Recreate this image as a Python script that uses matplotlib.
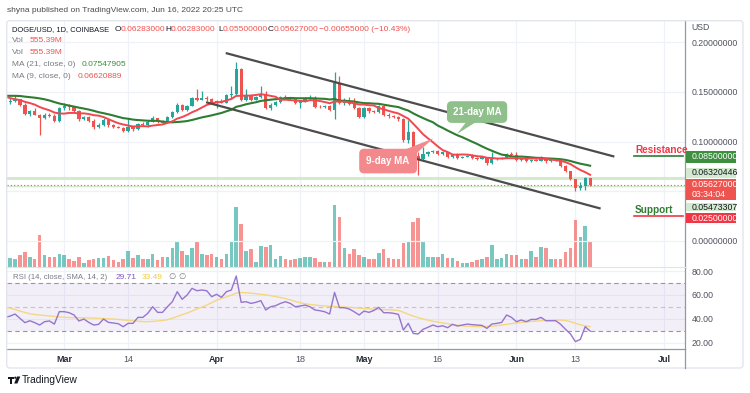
import numpy as np
import pandas as pd
import matplotlib
matplotlib.use("Agg")
import matplotlib.pyplot as plt
import matplotlib.dates as mdates
from matplotlib.patches import Rectangle, FancyBboxPatch, Polygon, Circle

plt.rcParams['font.family'] = ['Liberation Sans', 'DejaVu Sans']

# ---- data (DOGE/USD daily, Feb 17 - Jun 16 2022) ----
dates = pd.date_range("2022-02-17", "2022-06-16", freq="D")
first_open = 0.1460
closes = [
    0.1395, 0.1410, 0.1425, 0.1370, 0.1280, 0.1310, 0.1270, 0.1240, 0.1270, 0.1255, 0.1210, 0.1340,
    0.1355, 0.1345, 0.1310, 0.1225, 0.1245, 0.1210, 0.1150, 0.1165, 0.1215, 0.1165, 0.1150, 0.1140,
    0.1105, 0.1150, 0.1125, 0.1175, 0.1165, 0.1200, 0.1235, 0.1200, 0.1190, 0.1245, 0.1300, 0.1370,
    0.1315, 0.1360, 0.1440, 0.1420, 0.1440, 0.1425, 0.1385,
    0.1410, 0.1390, 0.1465, 0.1480, 0.1730, 0.1420, 0.1465, 0.1420, 0.1445, 0.1475, 0.1335, 0.1370,
    0.1400, 0.1450, 0.1435, 0.1425, 0.1385, 0.1410, 0.1435, 0.1440, 0.1350, 0.1345, 0.1360, 0.1320,
    0.1585, 0.1385, 0.1400, 0.1375, 0.1340, 0.1250,
    0.1335, 0.1305, 0.1295, 0.1355, 0.1270, 0.1255, 0.1250, 0.1230, 0.1015, 0.1100, 0.0850, 0.0825,
    0.0870, 0.0895, 0.0905, 0.0870, 0.0890, 0.0845, 0.0868, 0.0835, 0.0847, 0.0857, 0.0830, 0.0825,
    0.0840, 0.0780, 0.0820, 0.0825, 0.0835, 0.0870, 0.0860,
    0.0815, 0.0825, 0.0800, 0.0812, 0.0808, 0.0830, 0.0800, 0.0815, 0.0805, 0.0755, 0.0700, 0.0622,
    0.0535, 0.0555, 0.06283, 0.05627,
]
highs = [
    0.1475, 0.1440, 0.1470, 0.1430, 0.1385, 0.1320, 0.1335, 0.1280, 0.1285, 0.1290, 0.1275, 0.1350,
    0.1390, 0.1375, 0.1360, 0.1315, 0.1255, 0.1255, 0.1225, 0.1185, 0.1240, 0.1220, 0.1180, 0.1160,
    0.1150, 0.1240, 0.1160, 0.1190, 0.1195, 0.1215, 0.1255, 0.1240, 0.1215, 0.1260, 0.1310, 0.1385,
    0.1380, 0.1370, 0.1450, 0.1530, 0.1510, 0.1455, 0.1440,
    0.1420, 0.1430, 0.1475, 0.1555, 0.1800, 0.1740, 0.1530, 0.1480, 0.1460, 0.1555, 0.1510, 0.1385,
    0.1410, 0.1460, 0.1465, 0.1445, 0.1435, 0.1420, 0.1450, 0.1470, 0.1460, 0.1365, 0.1370, 0.1370,
    0.1705, 0.1665, 0.1435, 0.1445, 0.1440, 0.1345,
    0.1345, 0.1350, 0.1320, 0.1365, 0.1365, 0.1285, 0.1265, 0.1260, 0.1240, 0.1215, 0.1110, 0.0895,
    0.0945, 0.0905, 0.0915, 0.0910, 0.0900, 0.0895, 0.0875, 0.0880, 0.0855, 0.0865, 0.0870, 0.0840,
    0.0850, 0.0845, 0.0895, 0.0835, 0.0845, 0.0880, 0.0890,
    0.0895, 0.0835, 0.0830, 0.0820, 0.0820, 0.0850, 0.0835, 0.0825, 0.0820, 0.0810, 0.0760, 0.0705,
    0.0625, 0.0590, 0.0640, 0.06283,
]
lows = [
    0.1385, 0.1380, 0.1400, 0.1360, 0.1270, 0.1255, 0.1265, 0.1065, 0.1225, 0.1245, 0.1200, 0.1195,
    0.1320, 0.1320, 0.1295, 0.1210, 0.1215, 0.1200, 0.1125, 0.1140, 0.1160, 0.1150, 0.1135, 0.1135,
    0.1095, 0.1100, 0.1110, 0.1120, 0.1155, 0.1150, 0.1195, 0.1185, 0.1175, 0.1185, 0.1235, 0.1290,
    0.1305, 0.1310, 0.1355, 0.1410, 0.1415, 0.1410, 0.1375,
    0.1335, 0.1385, 0.1385, 0.1440, 0.1470, 0.1410, 0.1410, 0.1410, 0.1415, 0.1440, 0.1325, 0.1320,
    0.1360, 0.1390, 0.1425, 0.1415, 0.1375, 0.1340, 0.1400, 0.1420, 0.1340, 0.1335, 0.1340, 0.1310,
    0.1225, 0.1375, 0.1370, 0.1365, 0.1330, 0.1240,
    0.1240, 0.1290, 0.1285, 0.1290, 0.1255, 0.1240, 0.1235, 0.1210, 0.1000, 0.0985, 0.0835, 0.0665,
    0.0815, 0.0855, 0.0880, 0.0860, 0.0865, 0.0835, 0.0835, 0.0825, 0.0830, 0.0840, 0.0825, 0.0815,
    0.0820, 0.0765, 0.0775, 0.0810, 0.0820, 0.0830, 0.0850,
    0.0805, 0.0805, 0.0790, 0.0795, 0.0800, 0.0805, 0.0785, 0.0795, 0.0800, 0.0745, 0.0690, 0.0610,
    0.0500, 0.0515, 0.0510, 0.0550,
]
# volume in millions
volumes = [
    176, 176, 161, 247, 305, 212, 161, 678, 247, 212, 212, 262,
    247, 161, 118, 212, 68, 140, 161, 190, 190, 233, 140, 104, 161, 333, 190, 247, 161, 161,
    262, 140, 197, 197, 405, 556, 333, 247, 405, 556, 269, 247, 262,
    212, 161, 262, 520, 1273, 914, 333, 369, 104, 448, 427, 462, 161, 226, 161, 140, 161, 190,
    212, 197, 176, 90, 90, 104, 1316, 1065, 391, 269, 369, 247,
    212, 161, 161, 283, 369, 176, 161, 161, 513, 556, 964, 1036, 556, 212, 197, 212, 262, 190,
    190, 125, 68, 68, 90, 140, 161, 212, 462, 161, 176, 262, 247,
    247, 161, 161, 333, 212, 427, 405, 161, 161, 161, 305, 405, 996, 642, 871, 555.39,
]
# closes before the visible window (Jan 27 - Feb 16), only feed the moving averages
prior_closes = [0.139, 0.141, 0.143, 0.140, 0.142, 0.142, 0.138, 0.139, 0.146, 0.151, 0.154,
                0.164, 0.158, 0.157, 0.152, 0.145, 0.144, 0.142, 0.141, 0.146, 0.143]
rsi = [
    41.2, 42.3, 44.0, 40.4, 36.8, 38.4, 36.8, 34.8, 37.6, 38.2, 35.6, 46.0,
    46.0, 45.1, 43.2, 38.2, 39.8, 37.0, 34.8, 35.4, 39.8, 37.0, 36.5, 35.9, 33.4, 36.2, 36.2, 41.2,
    41.2, 44.6, 50.1, 45.4, 45.4, 50.1, 54.3, 62.7, 56.3, 59.9, 65.5, 63.5, 64.1, 63.5, 58.5,
    60.5, 58.0, 62.7, 64.1, 75.8, 53.8, 54.3, 52.9, 53.8, 55.2, 47.4, 50.1, 51.0, 52.9, 54.3, 52.9,
    50.1, 50.7, 51.5, 50.1, 47.4, 46.8, 45.9, 44.0, 62.1, 49.3, 49.3, 48.2, 45.9, 43.2,
    46.5, 45.4, 47.0, 49.6, 45.1, 45.1, 44.6, 43.7, 30.6, 36.2, 27.8, 27.3, 31.2, 32.9, 34.8, 33.4,
    34.2, 32.6, 35.4, 34.0, 34.8, 35.6, 35.1, 34.8, 34.5, 32.0, 35.6, 36.2, 37.0, 43.2, 41.2,
    37.6, 39.0, 37.6, 39.5, 39.5, 41.2, 38.4, 38.4, 38.4, 35.4, 31.2, 27.3, 20.9, 22.8, 33.4, 29.71,
]
rsi_sma = [
    49.6, 49.0, 47.8, 46.5, 45.3, 44.3, 43.6, 43.2, 42.8, 42.4, 42.0, 41.6,
    41.3, 41.1, 41.0, 40.9, 40.8, 40.7, 40.6, 40.4, 40.2, 40.0, 39.8, 39.5, 39.1, 38.7, 38.4, 38.0,
    37.7, 37.6, 37.8, 38.2, 38.6, 39.3, 40.5, 42.0, 43.5, 44.8, 46.5, 48.3, 49.8, 51.5, 53.5,
    55.5, 57.0, 58.3, 59.8, 61.5, 62.0, 61.8, 61.5, 61.0, 60.5, 60.0, 59.4, 58.6, 57.8, 56.9, 55.8,
    54.6, 53.4, 52.6, 52.0, 51.5, 51.1, 50.8, 50.5, 50.3, 50.0, 49.8, 49.6, 49.3, 49.0,
    48.7, 48.4, 48.1, 47.8, 47.7, 47.6, 47.4, 47.0, 45.5, 43.8, 42.3, 41.0, 39.9, 38.9, 38.0, 37.3,
    36.6, 35.9, 35.2, 34.6, 34.1, 33.8, 33.6, 33.5, 33.5, 33.6, 33.8, 34.3, 34.8, 35.4, 36.0,
    36.5, 37.0, 37.4, 37.8, 38.1, 38.4, 38.6, 38.8, 39.0, 39.0, 38.6, 37.6, 36.3, 35.0, 34.1, 33.49,
]
tick_dates = ["2022-03-01", "2022-03-14", "2022-04-01", "2022-04-18", "2022-05-01",
              "2022-05-16", "2022-06-01", "2022-06-13", "2022-07-01"]
tick_labels = ["Mar", "14", "Apr", "18", "May", "16", "Jun", "13", "Jul"]
channel_upper = [("2022-04-03 02:00", 0.1889), ("2022-06-20 17:00", 0.0851)]
channel_lower = [("2022-03-30 02:00", 0.1393), ("2022-06-17 22:00", 0.0327)]
resistance, support = 0.085, 0.025

UP, DOWN = "#26a69a", "#ef5350"
W, H = 750, 393

opens = [first_open] + closes[:-1]
all_close = pd.Series(prior_closes + closes)
ma9 = all_close.rolling(9).mean().iloc[len(prior_closes):].values
ma21 = all_close.rolling(21).mean().iloc[len(prior_closes):].values

x = mdates.date2num(dates)
o, c, h, l = map(np.array, (opens, closes, highs, lows))
up = c >= o
col = np.where(up, UP, DOWN)

fig = plt.figure(figsize=(7.5, 3.93), dpi=100)


def px_axes(x0, y0, x1, y1):
    return fig.add_axes([x0 / W, 1 - y1 / H, (x1 - x0) / W, (y1 - y0) / H])


apr1 = mdates.date2num(pd.Timestamp("2022-04-01"))
xlim = (apr1 - 42.7, apr1 + 95.3)
ticks = mdates.date2num(pd.to_datetime(tick_dates))
grid_c = "#eef1f7"

# ---- price pane (volume on a hidden twin underneath) ----
axv = px_axes(6.7, 20.7, 685, 266.5)
ax = axv.twinx()
axv.set_zorder(1)
ax.set_zorder(2)
ax.patch.set_visible(False)
for t in ticks:
    axv.axvline(t, color=grid_c, lw=0.9, zorder=0)
axv.bar(x, volumes, width=0.72, color=col, alpha=0.62, linewidth=0, zorder=2)
axv.set_ylim(0, 5285)
axv.set_xlim(xlim)
axv.set_yticks([])
axv.set_xticks([])
for s in axv.spines.values():
    s.set_visible(False)

ax.set_xlim(xlim)
ax.set_ylim(-0.026, 0.2218)
for p in [0, 0.05, 0.10, 0.15, 0.20]:
    ax.axhline(p, color=grid_c, lw=0.9, zorder=0)
ax.axhline(0.0632, color="#d3eacf", lw=2.2, zorder=1)
ax.axhline(0.0547, color="#d3eacf", lw=1.0, zorder=1)
ax.axhline(c[-1], color=DOWN, lw=0.8, ls=(0, (1, 2)), zorder=1)
ax.vlines(x, l, h, colors=col, lw=0.9, zorder=3)
body = np.maximum(np.abs(c - o), 0.0005)
ax.bar(x, body, bottom=np.minimum(o, c), width=0.66, color=col, linewidth=0, zorder=4)
ax.plot(x, ma21, color="#2e7d32", lw=1.5, zorder=5)
ax.plot(x, ma9, color="#f0484e", lw=1.4, zorder=5)
for seg in (channel_upper, channel_lower):
    sx = mdates.date2num(pd.to_datetime([seg[0][0], seg[1][0]]))
    ax.plot(sx, [seg[0][1], seg[1][1]], color="#4c4c4c", lw=1.6, zorder=6)

# level marks
lvl_x = mdates.date2num(pd.to_datetime(["2022-06-24 22:00", "2022-07-04 22:00"]))
ax.plot(lvl_x, [resistance] * 2, color="#2e7d32", lw=1.2, zorder=6)
ax.plot(lvl_x, [support] * 2, color="#f23645", lw=1.2, zorder=6)
ax.text(lvl_x[0] + 0.2, resistance + 0.0013, "Resistance", color="#f23645", fontsize=7.2,
        fontweight="bold", va="bottom", ha="left", zorder=7)
ax.text(lvl_x[0] + 0.2, support + 0.0013, "Support", color="#2e7d32", fontsize=7.2,
        fontweight="bold", va="bottom", ha="left", zorder=7)

# callouts: box + pointer
ma21_c, ma9_c = "#8fbf8a", "#f4898d"
ax.add_patch(Polygon([(apr1 + 50.8, 0.1197), (apr1 + 52.8, 0.1197), (apr1 + 48.9, 0.1076)],
                     fc=ma21_c, ec="none", zorder=8))
ax.add_patch(Polygon([(apr1 + 38.1, 0.0914), (apr1 + 39.6, 0.0834), (apr1 + 44.1, 0.1032)],
                     fc=ma9_c, ec="none", zorder=8))
ax.text(apr1 + 53.0, 0.1297, "21-day MA", color="white", fontsize=7, fontweight="bold",
        ha="center", va="center", zorder=9,
        bbox=dict(boxstyle="round,pad=0.6,rounding_size=0.5", fc=ma21_c, ec="none"))
ax.text(apr1 + 34.9, 0.0803, "9-day MA", color="white", fontsize=7, fontweight="bold",
        ha="center", va="center", zorder=9,
        bbox=dict(boxstyle="round,pad=0.75,rounding_size=0.5", fc=ma9_c, ec="none"))

ax.yaxis.tick_right()
ax.set_yticks([0, 0.10, 0.15, 0.20])
ax.set_yticklabels(["%.8f" % v for v in [0, 0.10, 0.15, 0.20]])
ax.tick_params(axis="y", length=0, pad=5, labelsize=6.3, labelcolor="#50535e")
ax.set_xticks([])
for k, s in ax.spines.items():
    s.set_visible(k == "right")
ax.spines["right"].set_color("#9598a1")
ax.spines["right"].set_linewidth(0.9)

# ---- RSI pane ----
axr = px_axes(6.7, 267, 685, 349.3)
axr.set_xlim(xlim)
axr.set_ylim(14.5, 83.35)
for t in ticks:
    axr.axvline(t, color=grid_c, lw=0.9, zorder=0)
for v in [20, 40, 60, 80]:
    axr.axhline(v, color=grid_c, lw=0.9, zorder=0)
axr.axhspan(30, 70, color="#7e57c2", alpha=0.09, lw=0, zorder=1)
for v, a in [(70, 1), (50, 0.5), (30, 1)]:
    axr.axhline(v, color="#9598a1", lw=0.8, ls=(0, (4, 3)), alpha=a, zorder=2)
axr.plot(x, rsi_sma, color="#f5d77f", lw=1.0, zorder=3)
axr.plot(x, rsi, color="#9575cd", lw=1.0, zorder=4)
axr.yaxis.tick_right()
axr.set_yticks([20, 40, 60, 80])
axr.set_yticklabels(["%.2f" % v for v in [20, 40, 60, 80]])
axr.tick_params(axis="y", length=0, pad=5, labelsize=6.3, labelcolor="#50535e")
axr.set_xticks(ticks)
axr.set_xticklabels(tick_labels)
axr.tick_params(axis="x", length=0, pad=4, labelsize=6.5, labelcolor="#50535e")
for lab in axr.get_xticklabels():
    if not lab.get_text().isdigit():
        lab.set_fontweight("bold")
        lab.set_color("#2a2e39")
for k, s in axr.spines.items():
    s.set_visible(k in ("right", "bottom"))
    s.set_color("#9598a1")
    s.set_linewidth(0.9)

# ---- overlay: frame, legends, price tags ----
ov = fig.add_axes([0, 0, 1, 1], zorder=10)
ov.set_xlim(0, W)
ov.set_ylim(H, 0)
ov.axis("off")
ov.patch.set_visible(False)
ov.add_patch(FancyBboxPatch((6.7, 20.7), 736.3, 347.3, boxstyle="round,pad=0,rounding_size=3",
                            fc="none", ec="#e0e3eb", lw=0.9))
ov.plot([6.7, 685], [266.8, 266.8], color="#e0e3eb", lw=0.8)
ov.plot([685, 685], [349.3, 368], color="#9598a1", lw=0.9)

fs = 6.0
gray, dark, red, green = "#787b86", "#131722", "#ef5350", "#388e3c"
ov.text(7, 10.5, "shyna published on TradingView.com, Jun 16, 2022 20:25 UTC", color="#4a4a4a",
        fontsize=6.0, va="center", ha="left")


def seg(y, parts):
    for px, s, cc, *sz in parts:
        ov.text(px, y, s, color=cc, fontsize=sz[0] if sz else fs, va="center", ha="left")


seg(29.3, [(12.3, "DOGE/USD, 1D, COINBASE", dark, 5.4), (114.5, "O", dark),
           (120.3, "0.06283000", red), (165.5, "H", dark), (171, "0.06283000", red),
           (218.3, "L", dark), (222.8, "0.05500000", red), (268, "C", dark),
           (273.5, "0.05627000", red), (319, "\u22120.00655000 (\u221210.43%)", red)])
seg(40.7, [(12.3, "Vol", gray), (29.3, "555.39M", red)])
seg(52.3, [(12.3, "Vol", gray), (29.3, "555.39M", red)])
seg(64.3, [(12.3, "MA (21, close, 0)", gray), (82, "0.07547905", green)])
seg(76, [(12.3, "MA (9, close, 0)", gray), (77.7, "0.06620889", red)])
seg(277.3, [(12.7, "RSI (14, close, SMA, 14, 2)", gray, 5.6), (116, "29.71", "#7e57c2"),
            (141.7, "33.49", "#f2c94c"), (168, "\u2205", gray), (178, "\u2205", gray)])
ov.text(691.5, 28, "USD", color="#50535e", fontsize=6.3, va="center", ha="left")


def tag(y0, y1, lines, fc, tc):
    ov.add_patch(Rectangle((685.5, y0), 50.5, y1 - y0, fc=fc, ec="none"))
    n = len(lines)
    for i, s in enumerate(lines):
        yy = y0 + (y1 - y0) * (i + 0.5) / n
        ov.text(691.5, yy, s, color=tc, fontsize=6.3, va="center", ha="left")


tag(150.5, 163.3, ["0.08500000"], "#3d8f3f", "white")
tag(168.3, 177.5, ["0.06320446"], "#d3eacf", dark)
tag(179.3, 200.0, ["0.05627000", "03:34:04"], "#ef5350", "white")
tag(202.7, 211.3, ["0.05473307"], "#d3eacf", dark)
tag(213.3, 223.3, ["0.02500000"], "#f23645", "white")

# TradingView logo
ov.add_patch(Rectangle((7.5, 376.5), 6.0, 2.2, fc=dark, ec="none"))
ov.add_patch(Rectangle((10.0, 376.5), 2.4, 7.0, fc=dark, ec="none"))
ov.add_patch(Circle((15.3, 377.7), 1.1, fc=dark, ec="none"))
ov.add_patch(Polygon([(17.0, 376.5), (20.3, 376.5), (17.4, 383.5), (14.2, 383.5)], fc=dark,
                     ec="none"))
ov.text(22, 380, "TradingView", color=dark, fontsize=7.3, va="center", ha="left")

fig.savefig("out.png", dpi=100)
